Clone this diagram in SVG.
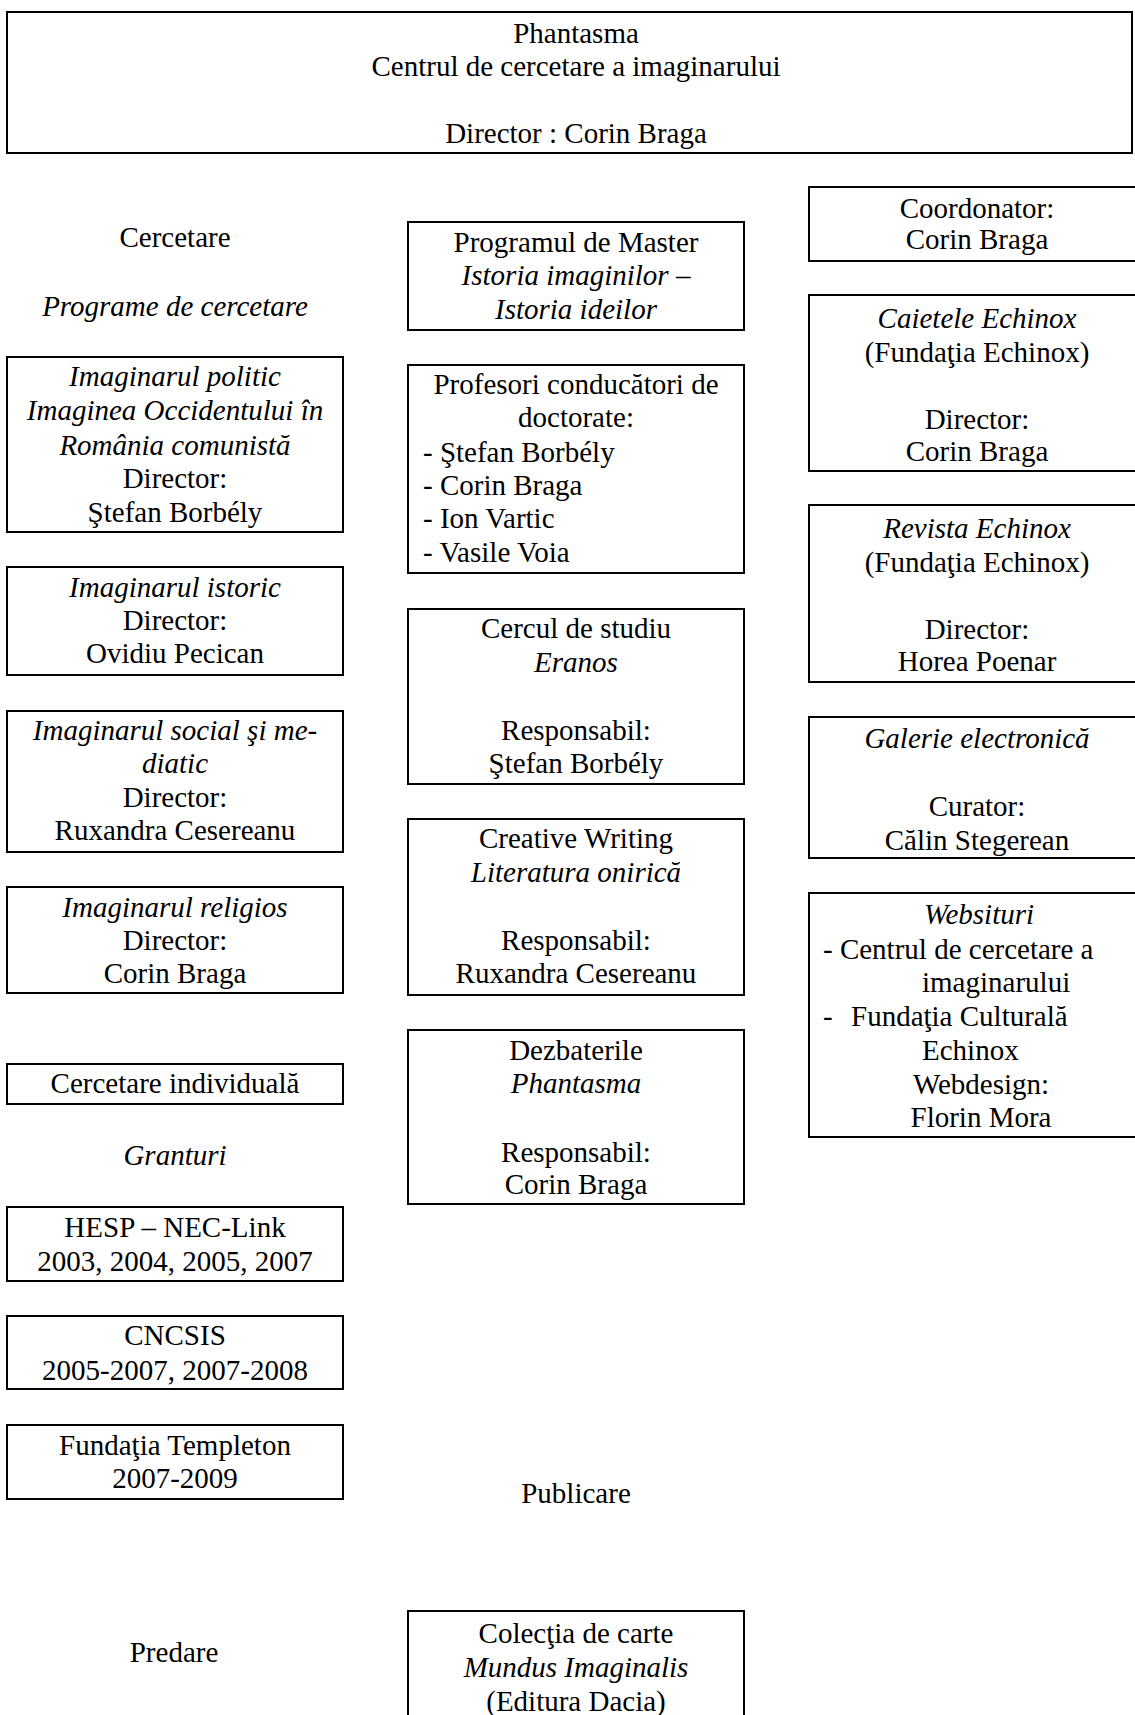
<svg xmlns="http://www.w3.org/2000/svg" width="1135" height="1715" viewBox="0 0 1135 1715">
<style>
.b{fill:none;stroke:#000;stroke-width:2}
text{font-family:"Liberation Serif","Times New Roman",serif;font-size:29px;fill:#000;text-anchor:middle}
.i{font-style:italic}
.l{text-anchor:start}
</style>
<rect x="0" y="0" width="1135" height="1715" fill="#fff"/>
<g id="connectors"></g>

<g id="title">
<rect class="b" x="7" y="12" width="1125" height="141"/>
<text x="576" y="43">Phantasma</text>
<text x="576" y="76">Centrul de cercetare a imaginarului</text>
<text x="576" y="143">Director : Corin Braga</text>
</g>

<!-- Left column -->
<g id="cercetare"><text x="175" y="247">Cercetare</text></g>
<g id="programe"><text class="i" x="175" y="316">Programe de cercetare</text></g>
<g id="imag-politic">
<rect class="b" x="7" y="357" width="336" height="175"/>
<text class="i" x="175" y="386">Imaginarul politic</text>
<text class="i" x="175" y="420">Imaginea Occidentului în</text>
<text class="i" x="175" y="455">România comunistă</text>
<text x="175" y="488">Director:</text>
<text x="175" y="522">Ştefan Borbély</text>
</g>
<g id="imag-istoric">
<rect class="b" x="7" y="567" width="336" height="108"/>
<text class="i" x="175" y="597">Imaginarul istoric</text>
<text x="175" y="630">Director:</text>
<text x="175" y="663">Ovidiu Pecican</text>
</g>
<g id="imag-social">
<rect class="b" x="7" y="711" width="336" height="141"/>
<text class="i" x="175" y="740">Imaginarul social şi me-</text>
<text class="i" x="175" y="773">diatic</text>
<text x="175" y="807">Director:</text>
<text x="175" y="840">Ruxandra Cesereanu</text>
</g>
<g id="imag-religios">
<rect class="b" x="7" y="887" width="336" height="106"/>
<text class="i" x="175" y="917">Imaginarul religios</text>
<text x="175" y="950">Director:</text>
<text x="175" y="983">Corin Braga</text>
</g>
<g id="individuala">
<rect class="b" x="7" y="1064" width="336" height="40"/>
<text x="175" y="1093">Cercetare individuală</text>
</g>
<g id="granturi"><text class="i" x="175" y="1165">Granturi</text></g>
<g id="hesp">
<rect class="b" x="7" y="1207" width="336" height="74"/>
<text x="175" y="1237">HESP – NEC-Link</text>
<text x="175" y="1271">2003, 2004, 2005, 2007</text>
</g>
<g id="cncsis">
<rect class="b" x="7" y="1316" width="336" height="73"/>
<text x="175" y="1345">CNCSIS</text>
<text x="175" y="1380">2005-2007, 2007-2008</text>
</g>
<g id="templeton">
<rect class="b" x="7" y="1425" width="336" height="74"/>
<text x="175" y="1455">Fundaţia Templeton</text>
<text x="175" y="1488">2007-2009</text>
</g>
<g id="predare"><text x="174" y="1662">Predare</text></g>

<!-- Middle column -->
<g id="master">
<rect class="b" x="408" y="222" width="336" height="108"/>
<text x="576" y="252">Programul de Master</text>
<text class="i" x="576" y="285">Istoria imaginilor –</text>
<text class="i" x="576" y="319">Istoria ideilor</text>
</g>
<g id="profesori">
<rect class="b" x="408" y="365" width="336" height="208"/>
<text x="576" y="394">Profesori conducători de</text>
<text x="576" y="427">doctorate:</text>
<text class="l" x="423" y="462">- Ştefan Borbély</text>
<text class="l" x="423" y="495">- Corin Braga</text>
<text class="l" x="423" y="528">- Ion Vartic</text>
<text class="l" x="423" y="562">- Vasile Voia</text>
</g>
<g id="eranos">
<rect class="b" x="408" y="609" width="336" height="175"/>
<text x="576" y="638">Cercul de studiu</text>
<text class="i" x="576" y="672">Eranos</text>
<text x="576" y="740">Responsabil:</text>
<text x="576" y="773">Ştefan Borbély</text>
</g>
<g id="creative">
<rect class="b" x="408" y="819" width="336" height="176"/>
<text x="576" y="848">Creative Writing</text>
<text class="i" x="576" y="882">Literatura onirică</text>
<text x="576" y="950">Responsabil:</text>
<text x="576" y="983">Ruxandra Cesereanu</text>
</g>
<g id="dezbaterile">
<rect class="b" x="408" y="1030" width="336" height="174"/>
<text x="576" y="1060">Dezbaterile</text>
<text class="i" x="576" y="1093">Phantasma</text>
<text x="576" y="1162">Responsabil:</text>
<text x="576" y="1194">Corin Braga</text>
</g>
<g id="publicare"><text x="576" y="1503">Publicare</text></g>
<g id="colectia">
<rect class="b" x="408" y="1611" width="336" height="120"/>
<text x="576" y="1643">Colecţia de carte</text>
<text class="i" x="576" y="1677">Mundus Imaginalis</text>
<text x="576" y="1711">(Editura Dacia)</text>
</g>

<!-- Right column -->
<g id="coordonator">
<rect class="b" x="809" y="187" width="340" height="74"/>
<text x="977" y="218">Coordonator:</text>
<text x="977" y="249">Corin Braga</text>
</g>
<g id="caietele">
<rect class="b" x="809" y="295" width="340" height="176"/>
<text class="i" x="977" y="328">Caietele Echinox</text>
<text x="977" y="362">(Fundaţia Echinox)</text>
<text x="977" y="429">Director:</text>
<text x="977" y="461">Corin Braga</text>
</g>
<g id="revista">
<rect class="b" x="809" y="505" width="340" height="177"/>
<text class="i" x="977" y="538">Revista Echinox</text>
<text x="977" y="572">(Fundaţia Echinox)</text>
<text x="977" y="639">Director:</text>
<text x="977" y="671">Horea Poenar</text>
</g>
<g id="galerie">
<rect class="b" x="809" y="717" width="340" height="141"/>
<text class="i" x="977" y="748">Galerie electronică</text>
<text x="977" y="816">Curator:</text>
<text x="977" y="850">Călin Stegerean</text>
</g>
<g id="websituri">
<rect class="b" x="809" y="893" width="340" height="244"/>
<text class="i" x="979" y="924">Websituri</text>
<text class="l" x="823" y="959">- Centrul de cercetare a</text>
<text class="l" x="922" y="992">imaginarului</text>
<text class="l" x="823" y="1026">-</text>
<text class="l" x="851" y="1026">Fundaţia Culturală</text>
<text class="l" x="922" y="1060">Echinox</text>
<text x="981" y="1094">Webdesign:</text>
<text x="981" y="1127">Florin Mora</text>
</g>
</svg>
